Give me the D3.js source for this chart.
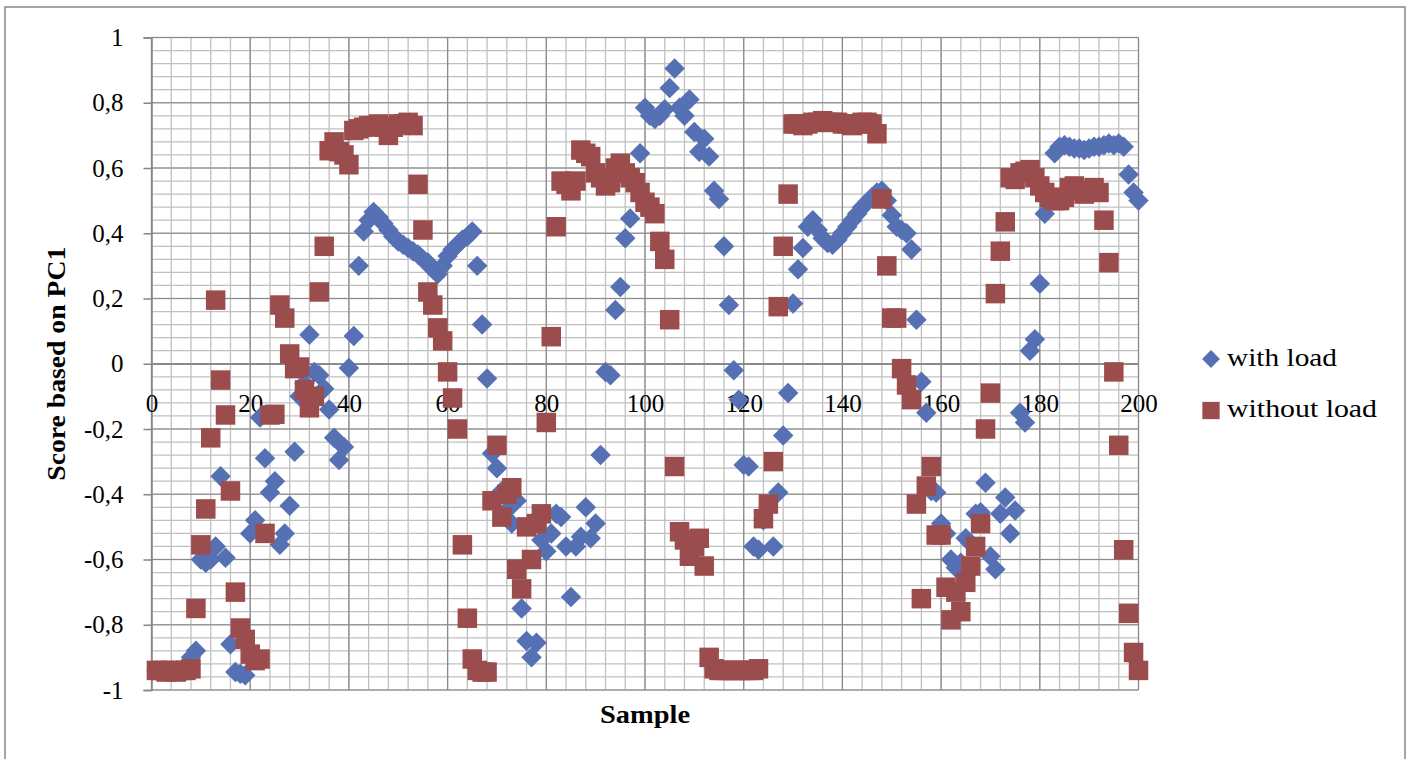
<!DOCTYPE html>
<html>
<head>
<meta charset="utf-8">
<script src="https://cdn.jsdelivr.net/npm/d3@7"></script>
<style>
  body { margin: 0; background: #fff; }
  text { font-family: "Liberation Serif", "Times New Roman", serif; fill: #000; }
</style>
</head>
<body>
<svg width="1411" height="759"></svg>
<script>
// sample numbers run 1..200
var withLoad = [
  -0.94, -0.94, -0.94, -0.94, -0.94, -0.94, -0.94, -0.90, -0.88, -0.60,
  -0.61, -0.60, -0.56, -0.345, -0.595, -0.86, -0.945, -0.95, -0.955, -0.52,
  -0.48, -0.165, -0.29, -0.395, -0.36, -0.555, -0.52, -0.435, -0.27, -0.10,
  -0.06, 0.089, -0.025, -0.035, -0.077, -0.14, -0.227, -0.295, -0.255, -0.013,
  0.085, 0.30, 0.405, 0.44, 0.465, 0.45, 0.43, 0.41, 0.39, 0.375,
  0.365, 0.355, 0.345, 0.335, 0.32, 0.31, 0.29, 0.275, 0.30, 0.33,
  0.35, 0.365, 0.38, 0.39, 0.405, 0.30, 0.12, -0.045, -0.275, -0.32,
  -0.39, -0.45, -0.49, -0.42, -0.75, -0.85, -0.90, -0.855, -0.54, -0.575,
  -0.52, -0.46, -0.47, -0.56, -0.715, -0.56, -0.53, -0.44, -0.535, -0.49,
  -0.28, -0.025, -0.035, 0.165, 0.235, 0.385, 0.445, 0.55, 0.645, 0.785,
  0.76, 0.75, 0.76, 0.78, 0.845, 0.905, 0.785, 0.76, 0.81, 0.71,
  0.65, 0.69, 0.635, 0.53, 0.505, 0.36, 0.18, -0.02, -0.11, -0.31,
  -0.315, -0.56, -0.57, -0.48, -0.44, -0.56, -0.395, -0.22, -0.09, 0.185,
  0.29, 0.355, 0.42, 0.44, 0.41, 0.385, 0.37, 0.365, 0.38, 0.40,
  0.42, 0.44, 0.46, 0.48, 0.495, 0.51, 0.525, 0.53, 0.50, 0.455,
  0.42, 0.41, 0.40, 0.35, 0.135, -0.055, -0.15, -0.39, -0.395, -0.49,
  -0.52, -0.60, -0.625, -0.61, -0.535, -0.55, -0.46, -0.455, -0.365, -0.59,
  -0.63, -0.46, -0.41, -0.52, -0.45, -0.15, -0.18, 0.04, 0.075, 0.245,
  0.46, 0.52, 0.645, 0.665, 0.67, 0.665, 0.66, 0.66, 0.655, 0.66,
  0.665, 0.665, 0.67, 0.675, 0.67, 0.675, 0.665, 0.58, 0.525, 0.50
];

var withoutLoad = [
  -0.94, -0.94, -0.945, -0.94, -0.945, -0.94, -0.94, -0.935, -0.75, -0.555,
  -0.445, -0.227, 0.195, -0.05, -0.157, -0.39, -0.70, -0.81, -0.845, -0.89,
  -0.91, -0.905, -0.52, -0.157, -0.155, 0.18, 0.14, 0.03, -0.015, -0.01,
  -0.08, -0.135, -0.10, 0.22, 0.36, 0.653, 0.68, 0.65, 0.64, 0.61,
  0.715, 0.72, 0.725, 0.73, 0.73, 0.735, 0.725, 0.70, 0.725, 0.735,
  0.735, 0.74, 0.73, 0.55, 0.41, 0.22, 0.18, 0.11, 0.07, -0.025,
  -0.105, -0.20, -0.555, -0.78, -0.905, -0.94, -0.945, -0.945, -0.42, -0.25,
  -0.47, -0.40, -0.38, -0.63, -0.69, -0.50, -0.60, -0.49, -0.46, -0.18,
  0.083, 0.42, 0.56, 0.55, 0.53, 0.56, 0.655, 0.645, 0.635, 0.585,
  0.57, 0.545, 0.555, 0.60, 0.615, 0.585, 0.57, 0.555, 0.525, 0.495,
  0.48, 0.46, 0.375, 0.32, 0.135, -0.315, -0.515, -0.54, -0.59, -0.56,
  -0.535, -0.62, -0.90, -0.935, -0.94, -0.94, -0.94, -0.94, -0.94, -0.94,
  -0.94, -0.94, -0.935, -0.475, -0.43, -0.30, 0.175, 0.36, 0.52, 0.735,
  0.735, 0.73, 0.735, 0.74, 0.74, 0.745, 0.74, 0.74, 0.74, 0.735,
  0.735, 0.73, 0.735, 0.74, 0.74, 0.735, 0.705, 0.505, 0.30, 0.14,
  0.14, -0.015, -0.065, -0.11, -0.43, -0.72, -0.375, -0.315, -0.525, -0.525,
  -0.685, -0.785, -0.70, -0.76, -0.67, -0.62, -0.56, -0.49, -0.20, -0.09,
  0.215, 0.345, 0.435, 0.57, 0.565, 0.585, 0.59, 0.595, 0.57, 0.545,
  0.525, 0.51, 0.50, 0.50, 0.51, 0.54, 0.545, 0.53, 0.52, 0.53,
  0.54, 0.525, 0.44, 0.31, -0.025, -0.25, -0.57, -0.765, -0.885, -0.94
];

var seriesNames = ["with load", "without load"];
var seriesColors = ["#5670b4", "#9b4c4c"];

var xTicks = [0, 20, 40, 60, 80, 100, 120, 140, 160, 180, 200];
var yTicks = [-1, -0.8, -0.6, -0.4, -0.2, 0, 0.2, 0.4, 0.6, 0.8, 1];
var xMinorStep = 4;
var yMinorStep = 0.04;

var svg = d3.select("svg"),
    width = +svg.attr("width"),
    height = +svg.attr("height");

var x = d3.scaleLinear().domain([0, 200]).range([151.5, 1138.5]);
var y = d3.scaleLinear().domain([-1, 1]).range([690, 37.5]);

// decimal comma and a plain hyphen for negatives, as in the original
var fmt = function(d) { return String(+d.toFixed(1)).replace(".", ","); };

// chart border
svg.append("rect")
    .attr("x", 5).attr("y", 7)
    .attr("width", 1400).attr("height", 770)
    .attr("fill", "#fff")
    .attr("stroke", "#868686")
    .attr("stroke-width", 1.5);

// minor grid
var grid = svg.append("g").attr("class", "grid");
var xMinor = d3.range(0, 200 + 0.001, xMinorStep);
var yMinor = d3.range(0, 50 + 1).map(function(i) { return -1 + i * yMinorStep; });

grid.selectAll("line.xminor")
    .data(xMinor)
    .enter().append("line")
    .attr("x1", function(d) { return x(d); })
    .attr("x2", function(d) { return x(d); })
    .attr("y1", y(1)).attr("y2", y(-1))
    .attr("stroke", "#c0c0c0").attr("stroke-width", 1.3);

grid.selectAll("line.yminor")
    .data(yMinor)
    .enter().append("line")
    .attr("y1", function(d) { return y(d); })
    .attr("y2", function(d) { return y(d); })
    .attr("x1", x(0)).attr("x2", x(200))
    .attr("stroke", "#c0c0c0").attr("stroke-width", 1.3);

// major grid
grid.selectAll("line.xmajor")
    .data(xTicks)
    .enter().append("line")
    .attr("x1", function(d) { return x(d); })
    .attr("x2", function(d) { return x(d); })
    .attr("y1", y(1)).attr("y2", y(-1))
    .attr("stroke", "#8a8a8a").attr("stroke-width", 1.2);

grid.selectAll("line.ymajor")
    .data(yTicks)
    .enter().append("line")
    .attr("y1", function(d) { return y(d); })
    .attr("y2", function(d) { return y(d); })
    .attr("x1", x(0)).attr("x2", x(200))
    .attr("stroke", "#8a8a8a").attr("stroke-width", 1.2);

// y axis
var yAxis = svg.append("g")
    .attr("transform", "translate(" + x(0) + ",0)")
    .call(d3.axisLeft(y).tickValues(yTicks).tickSize(8).tickPadding(20).tickFormat(fmt));
yAxis.selectAll("path, line").attr("stroke", "#868686").attr("stroke-width", 1.5);
yAxis.selectAll("text").attr("font-size", 25).attr("font-family", "Liberation Serif");

// x axis crosses at zero
var xAxis = svg.append("g")
    .attr("transform", "translate(0," + y(0) + ")")
    .call(d3.axisBottom(x).tickValues(xTicks).tickSize(0).tickPadding(30.5).tickFormat(fmt));
xAxis.selectAll("path").attr("stroke", "#868686").attr("stroke-width", 1.5);
xAxis.selectAll("text").attr("font-size", 25).attr("font-family", "Liberation Serif");

// markers
var diamond = d3.symbol().type(d3.symbolSquare).size(210);
var square = d3.symbol().type(d3.symbolSquare).size(380);

svg.append("g")
    .selectAll("path")
    .data(withLoad)
    .enter().append("path")
    .attr("d", diamond)
    .attr("transform", function(d, i) { return "translate(" + x(i + 1) + "," + y(d) + ") rotate(45)"; })
    .attr("fill", seriesColors[0]);

svg.append("g")
    .selectAll("path")
    .data(withoutLoad)
    .enter().append("path")
    .attr("d", square)
    .attr("transform", function(d, i) { return "translate(" + x(i + 1) + "," + y(d) + ")"; })
    .attr("fill", seriesColors[1]);

// axis titles
svg.append("text")
    .attr("x", x(100)).attr("y", 723)
    .attr("text-anchor", "middle")
    .attr("font-size", 26).attr("font-weight", "bold")
    .attr("textLength", 90).attr("lengthAdjust", "spacingAndGlyphs")
    .text("Sample");

svg.append("text")
    .attr("transform", "translate(65," + y(0) + ") rotate(-90)")
    .attr("text-anchor", "middle")
    .attr("font-size", 26).attr("font-weight", "bold")
    .attr("textLength", 234).attr("lengthAdjust", "spacingAndGlyphs")
    .text("Score based on PC1");

// legend
var legend = svg.append("g").attr("transform", "translate(1211,0)");
legend.append("path")
    .attr("d", d3.symbol().type(d3.symbolSquare).size(160))
    .attr("transform", "translate(0,359) rotate(45)")
    .attr("fill", seriesColors[0]);
legend.append("path")
    .attr("d", d3.symbol().type(d3.symbolSquare).size(300))
    .attr("transform", "translate(0,410.5)")
    .attr("fill", seriesColors[1]);
legend.append("text")
    .attr("x", 16).attr("y", 366)
    .attr("font-size", 25)
    .attr("textLength", 110).attr("lengthAdjust", "spacingAndGlyphs")
    .text(seriesNames[0]);
legend.append("text")
    .attr("x", 16).attr("y", 417)
    .attr("font-size", 25)
    .attr("textLength", 150).attr("lengthAdjust", "spacingAndGlyphs")
    .text(seriesNames[1]);
</script>
</body>
</html>
